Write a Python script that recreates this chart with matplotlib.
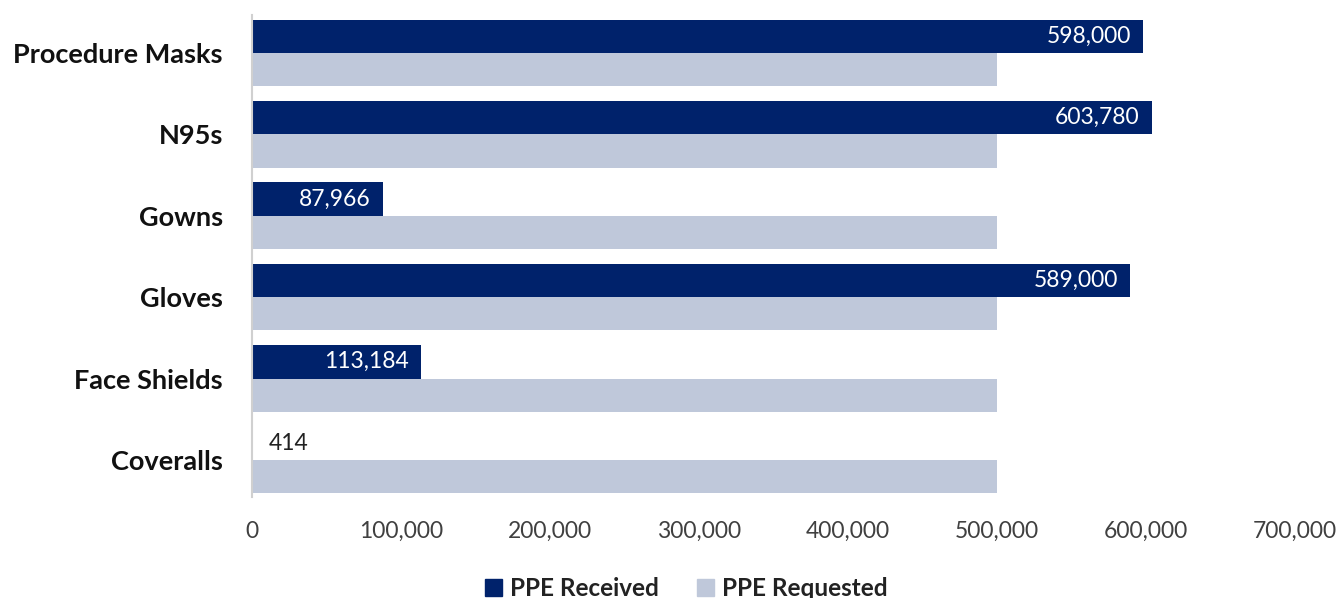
import matplotlib
matplotlib.use("Agg")
import matplotlib.pyplot as plt
import numpy as np
from matplotlib.patches import Patch

# données
categories = ["Procedure Masks", "N95s", "Gowns", "Gloves", "Face Shields", "Coveralls"]
received = [598000, 603780, 87966, 589000, 113184, 414]
requested = [500000, 500000, 500000, 500000, 500000, 500000]
xticks = [0, 100000, 200000, 300000, 400000, 500000, 600000, 700000]

dark = "#00226B"
light = "#BFC8DA"

plt.rcParams['font.family'] = ['Lato', 'DejaVu Sans']

fig = plt.figure(figsize=(13.43, 5.98), dpi=100)
ax = fig.add_axes([0.1876, 0.169, 0.9643 - 0.1876, 0.975 - 0.169])

y = np.arange(len(categories))
h = 0.41
bars_rec = ax.barh(y - h / 2, received, height=h, color=dark)
ax.barh(y + h / 2, requested, height=h, color=light)

ax.set_xlim(0, 700000)
ax.set_ylim(len(categories) - 1 + 0.455, -0.467)
ax.set_yticks(y)
ax.set_yticklabels(categories, fontsize=19.5, fontweight='bold', color='#111111')
ax.set_xticks(xticks)
ax.set_xticklabels([f"{v:,}" for v in xticks], fontsize=16.5, color='#404040')
ax.tick_params(length=0)
ax.tick_params(axis='y', pad=21)
ax.tick_params(axis='x', pad=17)

for s in ['top', 'right', 'bottom']:
    ax.spines[s].set_visible(False)
ax.spines['left'].set_color('#D0D0D0')
ax.spines['left'].set_linewidth(1.5)

# étiquettes de valeur
for b, v in zip(bars_rec, received):
    cy = b.get_y() + b.get_height() / 2
    if v > 50000:
        ax.text(v - 8000, cy, f"{v:,}", ha='right', va='center',
                color='white', fontsize=16.5)
    else:
        ax.text(v + 11000, cy, f"{v:,}", ha='left', va='center',
                color='#222222', fontsize=16.5)

handles = [Patch(color=dark, label="PPE Received"),
           Patch(color=light, label="PPE Requested")]
fig.legend(handles=handles, loc='center', bbox_to_anchor=(0.511, 0.016), ncol=2,
           frameon=False, prop={'size': 17.5, 'weight': 'bold'},
           handlelength=0.7, handleheight=0.7, handletextpad=0.3, columnspacing=1.6,
           labelcolor='#222222')

fig.savefig("out.png", dpi=100)
